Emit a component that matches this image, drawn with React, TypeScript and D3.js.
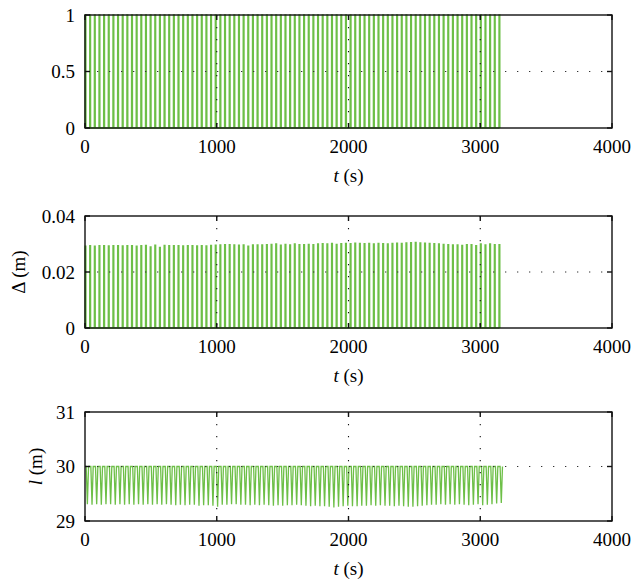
import { useRef, useEffect } from 'react';
import * as d3 from 'd3';

// cycle spacing (s)
const PERIOD = 35.3;
const X_TICKS = [0, 1000, 2000, 3000, 4000];
const X_GRID = [1000, 2000, 3000];

// top panel: switching signal, goes to 1 on every cycle
const SWITCH_HIGH = 1;
const SWITCH_TICKS = [0, 0.5, 1];

// middle panel: peak of Δ on each cycle (m)
const deltaPeaks = [
  0.0292, 0.0294, 0.0292, 0.0294, 0.0294, 0.0293, 0.0294, 0.0294, 0.0293, 0.0294,
  0.0294, 0.0292, 0.0294, 0.0295, 0.0290, 0.0296, 0.0288, 0.0295, 0.0294, 0.0294,
  0.0294, 0.0293, 0.0294, 0.0294, 0.0293, 0.0294, 0.0293, 0.0295, 0.0296,
  0.0297, 0.0298, 0.0298, 0.0297, 0.0296, 0.0297, 0.0292, 0.0297, 0.0297, 0.0297,
  0.0298, 0.0299, 0.0300, 0.0296, 0.0299, 0.0297, 0.0300, 0.0298, 0.0298, 0.0299,
  0.0298, 0.0300, 0.0301, 0.0300, 0.0302, 0.0299, 0.0301, 0.0302, 0.0301,
  0.0303, 0.0302, 0.0301, 0.0302, 0.0300, 0.0302, 0.0301, 0.0300, 0.0302, 0.0303,
  0.0302, 0.0304, 0.0305, 0.0306, 0.0304, 0.0303, 0.0302, 0.0301, 0.0300, 0.0299,
  0.0298, 0.0297, 0.0297, 0.0295, 0.0298, 0.0298, 0.0294, 0.0300, 0.0297, 0.0300,
  0.0298, 0.0298
];
const DELTA_TICKS = [0, 0.02, 0.04];

// bottom panel: rope length, top level and trough of each cycle (m)
const LENGTH_TOP = 30;
const lengthTroughs = [
  29.31, 29.30, 29.31, 29.30, 29.31, 29.31, 29.30, 29.31, 29.30, 29.31,
  29.30, 29.31, 29.30, 29.31, 29.30, 29.31, 29.30, 29.31, 29.30, 29.29,
  29.30, 29.29, 29.30, 29.30, 29.28, 29.29, 29.29, 29.28, 29.26,
  29.30, 29.30, 29.31, 29.31, 29.30, 29.30, 29.29, 29.30, 29.29, 29.30,
  29.29, 29.28, 29.29, 29.28, 29.29, 29.29, 29.30, 29.29, 29.28, 29.27,
  29.28, 29.27, 29.27, 29.26, 29.25, 29.26, 29.27, 29.28, 29.27,
  29.27, 29.28, 29.28, 29.29, 29.28, 29.29, 29.28, 29.28, 29.27, 29.28,
  29.27, 29.26, 29.26, 29.27, 29.28, 29.29, 29.30, 29.30, 29.31, 29.30,
  29.31, 29.30, 29.31, 29.30, 29.29, 29.30, 29.31, 29.29, 29.30, 29.31,
  29.32, 29.33
];
const LENGTH_TICKS = [29, 30, 31];

const GREEN = '#6dbf47';
const FONT = '"Liberation Serif", "DejaVu Serif", serif';

// a short pulse per cycle: up, hold, down
function pulses(peaks) {
  const pts = [];
  peaks.forEach((p, i) => {
    const t0 = i * PERIOD;
    pts.push([t0, 0], [t0 + 0.5, p], [t0 + 7, p], [t0 + 7.5, 0]);
  });
  return pts;
}

// held at the top, then a V down to the trough
function dips(troughs) {
  const pts = [];
  troughs.forEach((m, i) => {
    const t0 = i * PERIOD;
    pts.push([t0, LENGTH_TOP], [t0 + 9, LENGTH_TOP], [t0 + 18, m], [t0 + 27, LENGTH_TOP]);
  });
  return pts;
}

export default function App() {
  const svgRef = useRef(null);

  useEffect(() => {
    const svg = d3.select(svgRef.current);
    svg.selectAll('*').remove();

    const W = 634, H = 584;
    svg.attr('width', W).attr('height', H);

    const x = d3.scaleLinear().domain([0, 4000]).range([85, 612]);

    const panels = [
      { top: 15, bottom: 128, domain: [0, 1], ticks: SWITCH_TICKS, fmt: d => String(d), gridY: 0.5,
        data: pulses(deltaPeaks.map(() => SWITCH_HIGH)), label: null },
      { top: 216, bottom: 328, domain: [0, 0.04], ticks: DELTA_TICKS, fmt: d => d === 0 ? '0' : d.toFixed(2), gridY: 0.02,
        data: pulses(deltaPeaks), label: 'delta' },
      { top: 412, bottom: 521, domain: [29, 31], ticks: LENGTH_TICKS, fmt: d => String(d), gridY: 30,
        data: dips(lengthTroughs), label: 'length' }
    ];

    panels.forEach(p => {
      const y = d3.scaleLinear().domain(p.domain).range([p.bottom, p.top]);
      const g = svg.append('g');

      // data
      const line = d3.line().x(d => x(d[0])).y(d => y(d[1]));
      g.append('path')
        .datum(p.data)
        .attr('fill', 'none')
        .attr('stroke', GREEN)
        .attr('stroke-width', 1.3)
        .attr('d', line);

      // dotted grid
      X_GRID.forEach(v => {
        g.append('line')
          .attr('x1', x(v)).attr('x2', x(v))
          .attr('y1', p.top).attr('y2', p.bottom)
          .attr('stroke', '#111').attr('stroke-width', 1.1)
          .attr('stroke-dasharray', '1.3,10.7');
      });
      g.append('line')
        .attr('x1', x(0)).attr('x2', x(4000))
        .attr('y1', y(p.gridY)).attr('y2', y(p.gridY))
        .attr('stroke', '#333').attr('stroke-width', 1.1)
        .attr('stroke-dasharray', '1.3,10.7');

      // box
      g.append('rect')
        .attr('x', x(0)).attr('y', p.top)
        .attr('width', x(4000) - x(0)).attr('height', p.bottom - p.top)
        .attr('fill', 'none').attr('stroke', '#111').attr('stroke-width', 1.4);

      // inward ticks
      X_TICKS.forEach(v => {
        g.append('line').attr('x1', x(v)).attr('x2', x(v))
          .attr('y1', p.bottom).attr('y2', p.bottom - 5).attr('stroke', '#111').attr('stroke-width', 1.4);
        g.append('line').attr('x1', x(v)).attr('x2', x(v))
          .attr('y1', p.top).attr('y2', p.top + 5).attr('stroke', '#111').attr('stroke-width', 1.4);
        g.append('text')
          .attr('x', x(v)).attr('y', p.bottom + 25)
          .attr('text-anchor', 'middle')
          .style('font-family', FONT).style('font-size', '19px')
          .text(String(v));
      });
      p.ticks.forEach(v => {
        g.append('line').attr('x1', x(0)).attr('x2', x(0) + 5)
          .attr('y1', y(v)).attr('y2', y(v)).attr('stroke', '#111').attr('stroke-width', 1.4);
        g.append('line').attr('x1', x(4000)).attr('x2', x(4000) - 5)
          .attr('y1', y(v)).attr('y2', y(v)).attr('stroke', '#111').attr('stroke-width', 1.4);
        g.append('text')
          .attr('x', 75).attr('y', y(v)).attr('dy', '0.35em')
          .attr('text-anchor', 'end')
          .style('font-family', FONT).style('font-size', '19px')
          .text(p.fmt(v));
      });

      // x title
      const xt = g.append('text')
        .attr('x', (x(0) + x(4000)) / 2).attr('y', p.bottom + 54)
        .attr('text-anchor', 'middle')
        .style('font-family', FONT).style('font-size', '19px');
      xt.append('tspan').style('font-style', 'italic').text('t');
      xt.append('tspan').text(' (s)');

      // y title
      if (p.label) {
        const cy = (p.top + p.bottom) / 2;
        const cx = p.label === 'delta' ? 18 : 35;
        const yt = g.append('text')
          .attr('transform', `translate(${cx},${cy}) rotate(-90)`)
          .attr('dy', '0.35em')
          .attr('text-anchor', 'middle')
          .style('font-family', FONT).style('font-size', '19px');
        if (p.label === 'delta') {
          yt.append('tspan').text('Δ (m)');
        } else {
          yt.append('tspan').style('font-style', 'italic').text('l');
          yt.append('tspan').text(' (m)');
        }
      }
    });
  }, []);

  return (
    <div style={{ position: 'absolute', left: 0, top: 0 }}>
      <svg ref={svgRef}></svg>
    </div>
  );
}
